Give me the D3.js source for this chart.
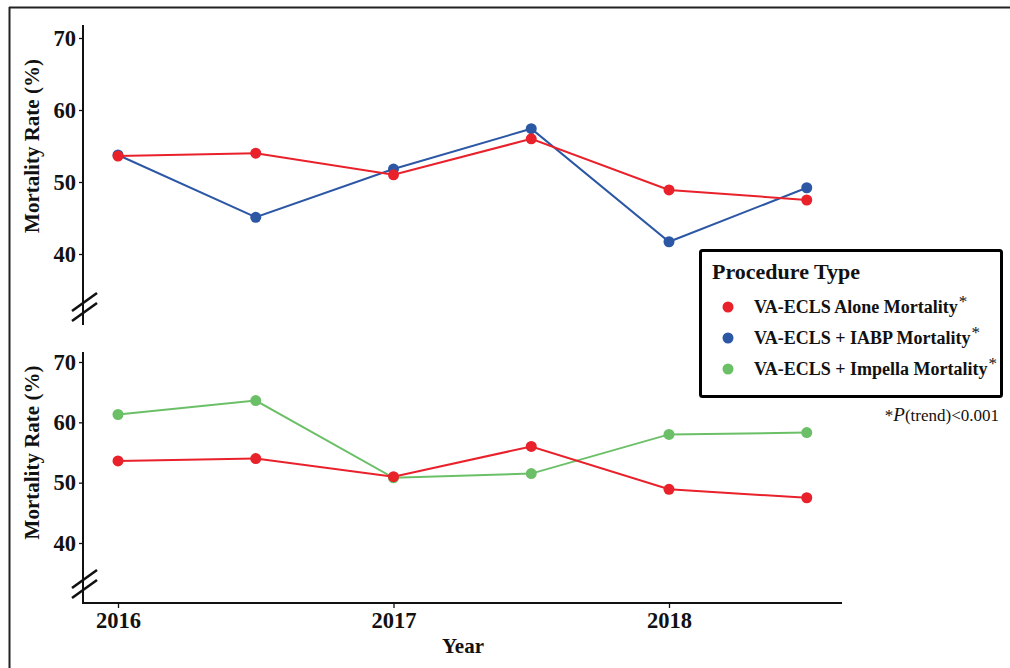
<!DOCTYPE html>
<html><head><meta charset="utf-8">
<script src="https://cdn.jsdelivr.net/npm/d3@7"></script>
<style>body{margin:0;background:#fff}svg{display:block}text{font-family:"Liberation Serif","Times New Roman",serif}</style>
</head><body><svg id="c" width="1010" height="668"></svg>
<script>
const years = [2016, 2016.5, 2017, 2017.5, 2018, 2018.5];
const xTicks = [2016, 2017, 2018];
const yTicks = [40, 50, 60, 70];
const alone = [53.6, 54.0, 51.0, 56.0, 48.9, 47.5];
const iabp = [53.75, 45.1, 51.8, 57.4, 41.7, 49.2];
const impella = [61.3, 63.6, 50.8, 51.5, 58.0, 58.3];
const seriesNames = ["VA-ECLS Alone Mortality", "VA-ECLS + IABP Mortality", "VA-ECLS + Impella Mortality"];
const colors = ["#E8212B", "#2C57A5", "#6BC067"];

const svg = d3.select("#c");
svg.append("line").attr("x1",9).attr("x2",1010).attr("y1",7.5).attr("y2",7.5).attr("stroke","#222").attr("stroke-width",2);
svg.append("line").attr("x1",9.5).attr("x2",9.5).attr("y1",7).attr("y2",668).attr("stroke","#222").attr("stroke-width",2);

const x = d3.scaleLinear().domain([2016, 2018]).range([118, 669]);
const axisX = 83;

function panel(yRange, axisTop, axisBottom, brk, series, colorIdx, showX) {
  const y = d3.scaleLinear().domain([40, 70]).range(yRange);
  const g = svg.append("g");
  const ya = g.append("g").attr("transform", `translate(${axisX},0)`)
    .call(d3.axisLeft(y).tickValues(yTicks).tickSize(4).tickPadding(3));
  ya.select(".domain").remove();
  ya.selectAll(".tick line").attr("stroke","#111").attr("stroke-width",1.3);
  ya.selectAll(".tick text").attr("font-size",22.5).attr("font-weight","bold").attr("fill","#111")
    .attr("font-family","Liberation Serif, serif");
  g.append("line").attr("x1",axisX).attr("x2",axisX).attr("y1",axisTop).attr("y2",axisBottom)
    .attr("stroke","#111").attr("stroke-width",2);
  [0, 10].forEach(o => {
    g.append("line").attr("x1",72).attr("y1",brk+o).attr("x2",97).attr("y2",brk+o-18)
      .attr("stroke","#111").attr("stroke-width",2.6);
  });
  const cy = (y(40)+y(70))/2;
  g.append("text").attr("transform",`translate(39,${cy}) rotate(-90)`).attr("text-anchor","middle")
    .attr("font-size",21).attr("font-weight","bold").attr("fill","#111").text("Mortality Rate (%)");
  series.forEach((vals, i) => {
    const c = colors[colorIdx[i]];
    const line = d3.line().x((d,j)=>x(years[j])).y(d=>y(d));
    g.append("path").datum(vals).attr("d", line).attr("fill","none").attr("stroke",c).attr("stroke-width",2);
    g.selectAll(null).data(vals).enter().append("circle")
      .attr("cx",(d,j)=>x(years[j])).attr("cy",d=>y(d)).attr("r",5.5).attr("fill",c);
  });
  if (showX) {
    g.append("line").attr("x1",axisX-1).attr("x2",842).attr("y1",axisBottom).attr("y2",axisBottom)
      .attr("stroke","#111").attr("stroke-width",2);
    const xa = g.append("g").attr("transform",`translate(0,${axisBottom})`)
      .call(d3.axisBottom(x).tickValues(xTicks).tickFormat(d3.format("d")).tickSize(5).tickPadding(4));
    xa.select(".domain").remove();
    xa.selectAll(".tick line").attr("stroke","#111").attr("stroke-width",1.3);
    xa.selectAll(".tick text").attr("font-size",22.5).attr("font-weight","bold").attr("fill","#111")
      .attr("font-family","Liberation Serif, serif");
  }
}

panel([254, 38], 25, 325, 311, [iabp, alone], [1, 0], false);
panel([543, 362], 352, 603, 588, [impella, alone], [2, 0], true);

svg.append("text").attr("x",463).attr("y",653).attr("text-anchor","middle").attr("font-size",21)
  .attr("font-weight","bold").attr("fill","#111").text("Year");

const lg = svg.append("g");
lg.append("rect").attr("x",700.5).attr("y",250.5).attr("width",301).attr("height",146).attr("rx",2)
  .attr("fill","#fff").attr("stroke","#000").attr("stroke-width",3);
lg.append("text").attr("x",712).attr("y",279).attr("font-size",22).attr("font-weight","bold").attr("fill","#111").text("Procedure Type");
seriesNames.forEach((n, i) => {
  const yy = 307 + i*31;
  lg.append("circle").attr("cx",728).attr("cy",yy).attr("r",5.5).attr("fill",colors[i]);
  const t = lg.append("text").attr("x",754).attr("y",yy+6).attr("font-size",18).attr("font-weight","bold").attr("fill","#111");
  t.append("tspan").text(n);
  t.append("tspan").attr("dx",1).attr("dy",-6).attr("font-size",17).attr("font-weight","normal").text("*");
});
const fn = svg.append("text").attr("x",999).attr("y",421).attr("text-anchor","end").attr("font-size",17).attr("fill","#111");
fn.append("tspan").text("*");
fn.append("tspan").attr("font-style","italic").attr("font-size",19).text("P");
fn.append("tspan").text("(trend)<0.001");
</script></body></html>
